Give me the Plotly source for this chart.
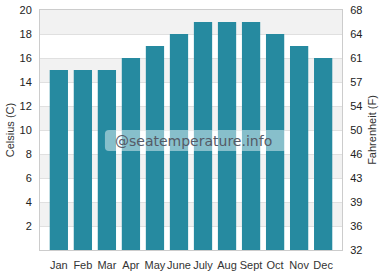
import plotly.graph_objects as go

months = ["Jan", "Feb", "Mar", "Apr", "May", "June", "July", "Aug", "Sept", "Oct", "Nov", "Dec"]
celsius = [15, 15, 15, 16, 17, 18, 19, 19, 19, 18, 17, 16]
c_ticks = [0, 2, 4, 6, 8, 10, 12, 14, 16, 18, 20]
c_labels = ["", "2", "4", "6", "8", "10", "12", "14", "16", "18", "20"]
f_labels = ["32", "36", "39", "43", "46", "50", "54", "57", "61", "64", "68"]
band_starts = [2, 6, 10, 14, 18]

BAR = "#268aa0"
GRID = "#e0e0e0"
LINE = "#cccccc"
TXT = "#222222"
FONT = "Liberation Sans, Arial, sans-serif"

fig = go.Figure()
fig.add_trace(go.Bar(x=months, y=celsius, marker=dict(color=BAR, line=dict(width=0)),
                     hoverinfo="skip", showlegend=False))
fig.add_trace(go.Scatter(x=months, y=celsius, yaxis="y2", mode="markers",
                         marker=dict(opacity=0), hoverinfo="skip", showlegend=False))

shapes = []
for b in band_starts:
    shapes.append(dict(type="rect", xref="paper", yref="y", x0=0, x1=1, y0=b, y1=b + 2,
                       fillcolor="#f2f2f2", line=dict(width=0), layer="below"))

# rounded watermark box
x0, x1, y0, y1 = 0.215, 0.818, 0.4125, 0.5
rx, ry = 4 / 302, 4 / 240
path = (f"M {x0+rx},{y0} L {x1-rx},{y0} Q {x1},{y0} {x1},{y0+ry} "
        f"L {x1},{y1-ry} Q {x1},{y1} {x1-rx},{y1} L {x0+rx},{y1} Q {x0},{y1} {x0},{y1-ry} "
        f"L {x0},{y0+ry} Q {x0},{y0} {x0+rx},{y0} Z")
shapes.append(dict(type="path", xref="paper", yref="paper", path=path,
                   fillcolor="rgba(255,255,255,0.45)", line=dict(width=0), layer="above"))

fig.update_layout(
    width=382, height=280,
    margin=dict(l=40, r=40, t=10, b=30),
    paper_bgcolor="white", plot_bgcolor="white",
    bargap=0.24,
    font=dict(family=FONT, size=11, color=TXT),
    shapes=shapes,
    xaxis=dict(showgrid=False, showline=True, linecolor=LINE, linewidth=1, mirror=True,
               ticks="outside", ticklen=5, tickcolor="rgba(0,0,0,0)",
               tickangle=0, automargin=False, tickfont=dict(size=11, color="#333")),
    yaxis=dict(range=[0, 20], tickvals=c_ticks, ticktext=c_labels, showgrid=True,
               gridcolor=GRID, gridwidth=1, showline=True, linecolor=LINE, mirror=True,
               ticks="outside", ticklen=5, tickcolor="rgba(0,0,0,0)",
               zeroline=False, automargin=False,
               title=dict(text="Celsius (C)", font=dict(size=11, color="#333"), standoff=2)),
    yaxis2=dict(range=[0, 20], tickvals=c_ticks, ticktext=f_labels, overlaying="y", side="right",
                showgrid=False, showline=False, ticks="outside", ticklen=5,
                tickcolor="rgba(0,0,0,0)", zeroline=False, automargin=False,
                title=dict(text="Fahrenheit (F)", font=dict(size=11, color="#333"), standoff=6)),
    annotations=[dict(text="@seatemperature.info", xref="paper", yref="paper", x=0.508, y=0.454,
                      showarrow=False, font=dict(family="DejaVu Sans", size=14, color="#555a66"))],
)

fig.write_html("out.html", config={"displayModeBar": False},
               post_script="document.body.style.margin='0';")
